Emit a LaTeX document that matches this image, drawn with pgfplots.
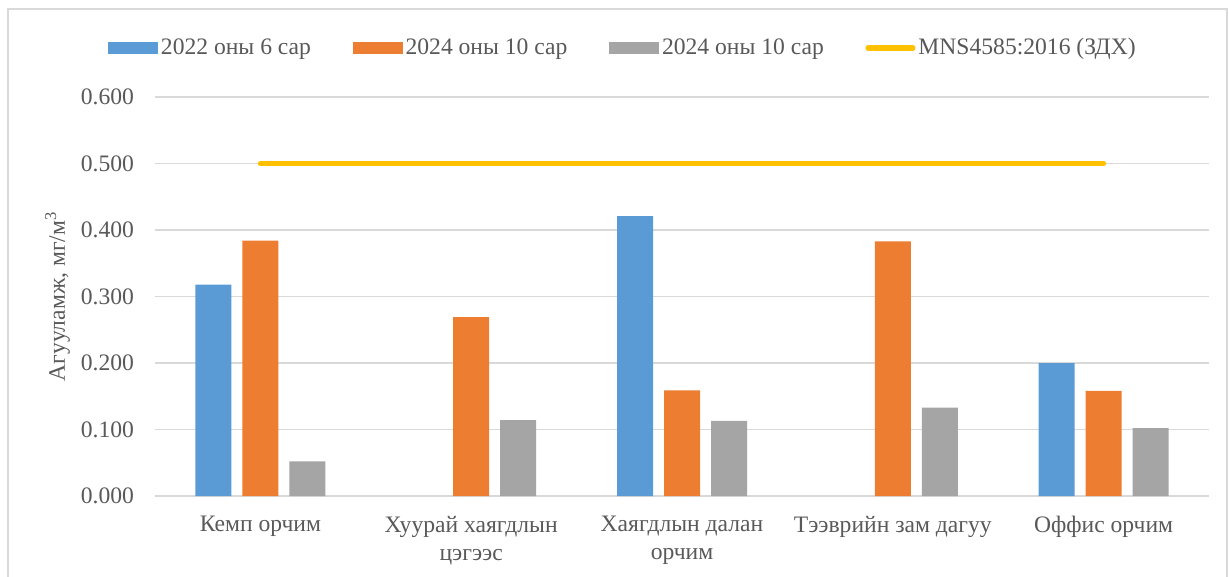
\documentclass[border=0pt]{standalone}
\usepackage{fontspec}
\setmainfont{Liberation Serif}
\usepackage{pgfplots}
\pgfplotsset{compat=1.18}
\definecolor{cblue}{HTML}{5B9BD5}
\definecolor{corange}{HTML}{ED7D31}
\definecolor{cgray}{HTML}{A5A5A5}
\definecolor{cyel}{HTML}{FFC000}
\definecolor{cgrid}{HTML}{D9D9D9}
\definecolor{ctext}{HTML}{595959}
\begin{document}
\begin{tikzpicture}
\useasboundingbox (-77.5pt,-40.5pt) rectangle (537pt,248pt);
\draw[cgrid, line width=1pt] (-73.5pt,-45pt) -- (-73.5pt,243.5pt) -- (536pt,243.5pt) -- (536pt,-45pt);
\begin{axis}[
  at={(0,0)}, anchor=south west,
  scale only axis, width=527pt, height=199.5pt,
  xmin=-0.5, xmax=4.5, ymin=0, ymax=0.6,
  xtick={0,1,2,3,4},
  xticklabels={{Кемп орчим},{Хуурай хаягдлын\\цэгээс},{Хаягдлын далан\\орчим},{Тээврийн зам дагуу},{Оффис орчим}},
  ytick={0,0.1,0.2,0.3,0.4,0.5,0.6},
  yticklabel style={xshift=-7pt, /pgf/number format/fixed, /pgf/number format/fixed zerofill, /pgf/number format/precision=3, /pgf/number format/assume math mode=true},
  xticklabel style={align=center, yshift=-6.5pt},
  ticklabel style={font=\fontsize{11.8}{14}\selectfont, text=ctext},
  axis line style={draw=none},
  major tick style={draw=none},
  ymajorgrids, grid style={cgrid, line width=0.9pt},
  ylabel={Агууламж, мг/м\textsuperscript{3}},
  every axis y label/.style={at={(axis description cs:-0.0925,0.5)}, rotate=90, anchor=center, font=\fontsize{11.8}{14}\selectfont, text=ctext},
  legend columns=4,
  legend style={at={(-0.0446,1.1228)}, anchor=west, draw=none, inner sep=0pt, outer sep=0pt,
    font=\fontsize{11.8}{14}\selectfont, text=ctext,
    /tikz/every odd column/.append style={column sep=0pt},
    /tikz/every even column/.append style={column sep=19.3pt},
    nodes={inner sep=1.5pt}},
]
\addplot[ybar, bar width=18pt, bar shift=-23.5pt, fill=cblue, draw=none,
  legend image code/.code={\fill[cblue] (0pt,-3pt) rectangle (25pt,3pt);}]
  coordinates {(0,0.318) (2,0.421) (4,0.200)};
\addlegendentry{2022 оны 6 сар}
\addplot[ybar, bar width=18pt, bar shift=0pt, fill=corange, draw=none,
  legend image code/.code={\fill[corange] (0pt,-3pt) rectangle (25pt,3pt);}]
  coordinates {(0,0.384) (1,0.269) (2,0.159) (3,0.383) (4,0.158)};
\addlegendentry{2024 оны 10 сар}
\addplot[ybar, bar width=18pt, bar shift=23.5pt, fill=cgray, draw=none,
  legend image code/.code={\fill[cgray] (0pt,-3pt) rectangle (25pt,3pt);}]
  coordinates {(0,0.052) (1,0.114) (2,0.113) (3,0.133) (4,0.102)};
\addlegendentry{2024 оны 10 сар}
\addplot[cyel, line width=2.6pt, line cap=round, mark=none,
  legend image code/.code={\draw[cyel, line width=2.6pt, line cap=round] (1.3pt,0pt) -- (23.7pt,0pt);}]
  coordinates {(0,0.5) (1,0.5) (2,0.5) (3,0.5) (4,0.5)};
\addlegendentry{MNS4585:2016 (ЗДХ)}
\end{axis}
\end{tikzpicture}
\end{document}
